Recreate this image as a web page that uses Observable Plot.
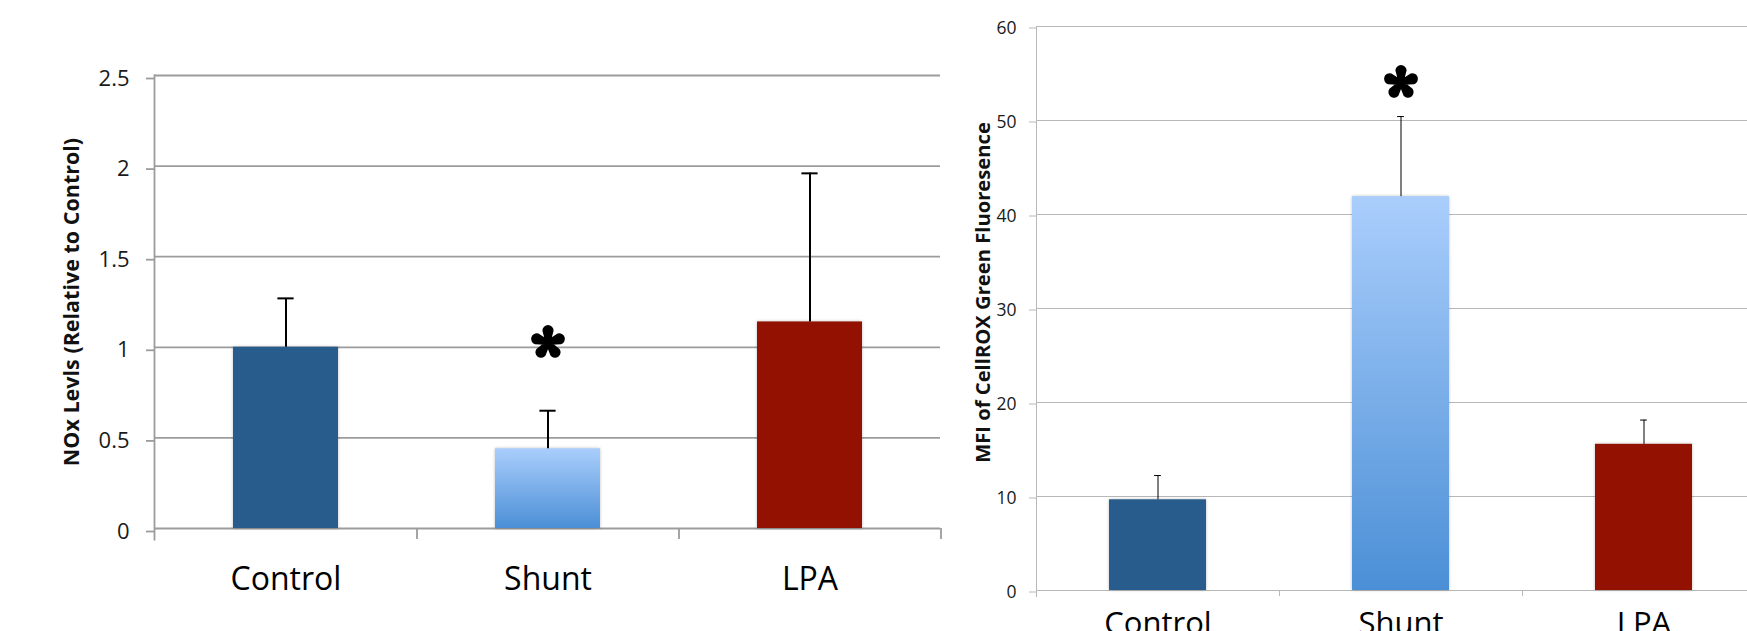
<!DOCTYPE html>
<html><head><meta charset="utf-8">
<script src="https://cdn.jsdelivr.net/npm/d3@7"></script>
<script src="https://cdn.jsdelivr.net/npm/@observablehq/plot@0.6"></script>
<style>
html,body{margin:0;padding:0;background:#fff;width:1747px;height:631px;overflow:hidden;}
#wrap{position:relative;width:1747px;height:631px;overflow:hidden;background:#fff;}
#left{position:absolute;left:0;top:0;width:945px;}
#right{position:absolute;left:945px;top:0;width:820px;}
svg{display:block;max-width:none !important;}
</style></head><body><div id="wrap"><div id="left"></div><div id="right"></div></div>
<script>
// ---- data ----
const categories = ["Control", "Shunt", "LPA"];
const barColors = ["#285c8d", "url(#shuntGrad)", "#931100"];

const noxMean = [1.0, 0.44, 1.14];
const noxErr = [0.27, 0.21, 0.82];
const noxTicks = [0, 0.5, 1, 1.5, 2, 2.5];
const noxTickLabels = ["0", "0.5", "1", "1.5", "2", "2.5"];
const noxLabel = "NOx Levls (Relative to Control)";
const noxSig = [{cat: "Shunt", y: 1.026}];

const mfiMean = [9.65, 41.9, 15.55];
const mfiErr = [2.58, 8.52, 2.58];
const mfiTicks = [0, 10, 20, 30, 40, 50, 60];
const mfiTickLabels = ["0", "10", "20", "30", "40", "50", "60"];
const mfiLabel = "MFI of CellROX Green Fluoresence";
const mfiSig = [{cat: "Shunt", y: 54.04}];

const FONT = "'Open Sans', 'Noto Sans', sans-serif";

// five teardrop-petal asterisk symbol (significance marker)
const petalStar = {
  draw(ctx, size) {
    const R = Math.sqrt(size / Math.PI);
    const w = 0.32 * R, c = 0.11 * R;
    for (let k = 0; k < 5; k++) {
      const a = -Math.PI / 2 + k * 2 * Math.PI / 5;
      const ux = Math.cos(a), uy = Math.sin(a);
      const px = -uy, py = ux;
      const cx = ux * (R - w), cy = uy * (R - w);
      ctx.moveTo(-px * c - ux * c, -py * c - uy * c);
      ctx.lineTo(px * c - ux * c, py * c - uy * c);
      ctx.lineTo(cx + px * w, cy + py * w);
      ctx.arc(cx, cy, w, a + Math.PI / 2, a - Math.PI / 2, true);
      ctx.closePath();
    }
  }
};

function chart(opts) {
  const {mean, err, ticks, tickLabels, yMax, label, sig, width, height, mL, mR, mT, mB,
         gridColor, gridW, tickSize, tickPad, tickFont, tickDy, catFont, catPad, capW, errW, bTick,
         labelDx, labelDy, labelFont, starR} = opts;
  const data = categories.map((c, i) => ({cat: c, mean: mean[i], err: err[i], color: barColors[i]}));
  const plotW = width - mL - mR;
  const plotH = height - mT - mB;
  const step = plotW / 3;
  const bw = step * 0.4;
  return Plot.plot({
    width, height,
    marginLeft: mL, marginRight: mR, marginTop: mT, marginBottom: mB,
    style: {fontFamily: FONT, background: "transparent", overflow: "visible", maxWidth: "none"},
    x: {type: "band", domain: categories, paddingInner: 0.6, paddingOuter: 0.3},
    y: {domain: [0, yMax]},
    color: {type: "identity"},
    marks: [
      Plot.gridY(ticks, {stroke: gridColor, strokeOpacity: 1, strokeWidth: gridW}),
      Plot.frame({anchor: "left", stroke: gridColor, strokeWidth: gridW, insetBottom: -bTick}),
      Plot.ruleX(categories, {x: d => d, dx: step / 2, insetTop: plotH, insetBottom: -bTick,
        stroke: gridColor, strokeWidth: gridW}),
      Plot.axisY({ticks, tickFormat: d => tickLabels[ticks.indexOf(d)], tickSize, tickPadding: tickPad,
        fontSize: tickFont, stroke: gridColor, strokeWidth: gridW, fill: "#1a1a1a", label: null, dy: tickDy}),
      Plot.axisX({tickSize: 0, tickPadding: catPad, fontSize: catFont, fill: "#000", label: null}),
      Plot.barY(data, {x: "cat", y: "mean", fill: "color"}),
      Plot.ruleX(data, {x: "cat", y1: "mean", y2: d => d.mean + d.err, stroke: "#000", strokeWidth: errW}),
      Plot.tickY(data, {x: "cat", y: d => d.mean + d.err, stroke: "#000", strokeWidth: errW,
        insetLeft: (bw - capW) / 2, insetRight: (bw - capW) / 2}),
      Plot.dot(sig, {x: "cat", y: "y", r: starR, symbol: petalStar, fill: "#000", stroke: "none"}),
      Plot.text([label], {frameAnchor: "left", textAnchor: "middle", lineAnchor: "middle", rotate: -90,
        dx: labelDx, dy: labelDy, fontSize: labelFont, fontWeight: "bold", fill: "#111"})
    ]
  });
}

const svgL = chart({mean: noxMean, err: noxErr, ticks: noxTicks, tickLabels: noxTickLabels, yMax: 2.5,
  label: noxLabel, sig: noxSig, width: 945, height: 631, mL: 154, mR: 5, mT: 75, mB: 103,
  gridColor: "#9c9c9c", gridW: 1.8, tickSize: 8, tickPad: 17, tickFont: 22, tickDy: 3, catFont: 32, catPad: 39,
  capW: 16, errW: 2, bTick: 11, labelDx: -82, labelDy: 0, labelFont: 21.5, starR: 17.5});

const svgR = chart({mean: mfiMean, err: mfiErr, ticks: mfiTicks, tickLabels: mfiTickLabels, yMax: 60,
  label: mfiLabel, sig: mfiSig, width: 820, height: 680, mL: 91, mR: 0, mT: 26, mB: 90,
  gridColor: "#b8b8b8", gridW: 1, tickSize: 7, tickPad: 13, tickFont: 17.5, tickDy: 1.5, catFont: 31, catPad: 21,
  capW: 7, errW: 1, bTick: 6, labelDx: -53, labelDy: -16, labelFont: 20.2, starR: 17.5});

d3.select(svgL).insert("defs", ":first-child").html(
  '<linearGradient id="shuntGrad" x1="0" y1="0" x2="0" y2="1">' +
  '<stop offset="0" stop-color="#aacefc"/><stop offset="1" stop-color="#4b8fd6"/></linearGradient>');

for (const s of [svgL, svgR]) {
  d3.select(s).selectAll("g[aria-label='bar'] rect").style("filter", "drop-shadow(0px 0px 1.5px rgba(0,0,0,0.25))");
}

document.getElementById("left").appendChild(svgL);
document.getElementById("right").appendChild(svgR);
</script>
</body></html>
